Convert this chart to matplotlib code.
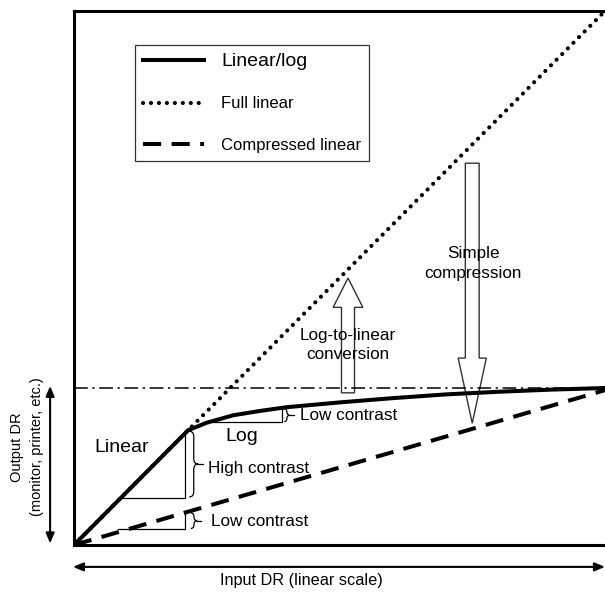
import numpy as np
import matplotlib
matplotlib.use("Agg")
import matplotlib.pyplot as plt
from matplotlib.path import Path
from matplotlib.patches import PathPatch
from matplotlib.lines import Line2D

plt.rcParams['font.family'] = ['Liberation Sans', 'DejaVu Sans']

# courbes (entrée normalisée 0..1, sortie normalisée 0..1)
full_x = [0.0, 1.0]
full_y = [0.0, 1.0]

linlog_x = [0.0, 0.215, 0.25, 0.30, 0.35, 0.40, 0.50, 0.60, 0.70, 0.80, 0.90, 1.00]
linlog_y = [0.0, 0.215, 0.229, 0.243, 0.251, 0.258, 0.267, 0.275, 0.282, 0.287, 0.291, 0.294]

comp_x = [0.0, 1.0]
comp_y = [0.0, 0.29]

out_max = 0.294  # niveau du dynamic range de sortie

# triangles de pente : (x0, y0, x1, y1)
tri_high = (0.088, 0.088, 0.209, 0.215)
tri_low_comp = (0.083, 0.030, 0.209, 0.060)
tri_low_log = (0.262, 0.230, 0.392, 0.255)

DOTS = (0, (0.01, 1.9))
DASH = (0, (4.5, 2.6))

fig = plt.figure(figsize=(6.05, 5.97), dpi=100)
ax = fig.add_axes([74 / 605, 52 / 597, 531 / 605, 534 / 597])
ax.set_xlim(0, 1)
ax.set_ylim(0, 1)
ax.set_xticks([])
ax.set_yticks([])
for s in ['left', 'bottom', 'top']:
    ax.spines[s].set_linewidth(2.2)
ax.spines['right'].set_visible(False)

ax.axhline(out_max, color='black', lw=1.1, linestyle=(0, (9, 3, 1.5, 3)), zorder=2)

ax.plot(full_x, full_y, color='black', lw=3.0, linestyle=DOTS,
        dash_capstyle='round', zorder=3)
ax.plot(comp_x, comp_y, color='black', lw=2.9, linestyle=DASH, zorder=3)
ax.plot(linlog_x, linlog_y, color='black', lw=2.9, solid_joinstyle='round', zorder=4)


def triangle(t):
    x0, y0, x1, y1 = t
    ax.plot([x0, x1, x1], [y0, y0, y1], color='black', lw=0.9, zorder=2)


def brace(x, y0, y1, w):
    ym = (y0 + y1) / 2
    d = min(w * 0.6, (y1 - y0) / 4)
    verts = [(x, y1), (x + w / 2, y1), (x + w / 2, y1 - d),
             (x + w / 2, ym + d),
             (x + w / 2, ym), (x + w, ym),
             (x + w / 2, ym), (x + w / 2, ym - d),
             (x + w / 2, y0 + d),
             (x + w / 2, y0), (x, y0)]
    codes = [Path.MOVETO, Path.CURVE3, Path.CURVE3, Path.LINETO,
             Path.CURVE3, Path.CURVE3, Path.CURVE3, Path.CURVE3,
             Path.LINETO, Path.CURVE3, Path.CURVE3]
    ax.add_patch(PathPatch(Path(verts, codes), fc='none', ec='black', lw=0.9, zorder=2))
    ax.plot([x + w, x + w + 0.008], [ym, ym], color='black', lw=0.9, zorder=2)


triangle(tri_high)
triangle(tri_low_comp)
triangle(tri_low_log)
brace(0.217, 0.090, 0.213, 0.017)
brace(0.220, 0.031, 0.060, 0.012)
brace(0.396, 0.231, 0.255, 0.010)

ax.text(0.252, 0.144, 'High contrast', fontsize=12.3, va='center', ha='left')
ax.text(0.258, 0.044, 'Low contrast', fontsize=12.3, va='center', ha='left')
ax.text(0.425, 0.243, 'Low contrast', fontsize=12.3, va='center', ha='left')
ax.text(0.090, 0.182, 'Linear', fontsize=14, va='center', ha='center')
ax.text(0.315, 0.203, 'Log', fontsize=14, va='center', ha='center')

# flèches creuses
ax.arrow(0.516, 0.285, 0, 0.215, width=0.0245, head_width=0.056, head_length=0.055,
         length_includes_head=True, fc='white', ec='#333333', lw=1.0, zorder=1)
ax.arrow(0.75, 0.715, 0, -0.487, width=0.026, head_width=0.053, head_length=0.122,
         length_includes_head=True, fc='white', ec='#333333', lw=1.0, zorder=1)
ax.text(0.516, 0.375, 'Log-to-linear\nconversion', fontsize=12.3, ha='center',
        va='center', linespacing=1.35, zorder=5)
ax.text(0.752, 0.527, 'Simple\ncompression', fontsize=12.3, ha='center',
        va='center', linespacing=1.35, zorder=5)

# légende
leg = ax.legend(handles=[Line2D([], [], color='black', lw=2.9),
                         Line2D([], [], color='black', lw=3.0, linestyle=DOTS,
                                dash_capstyle='round'),
                         Line2D([], [], color='black', lw=2.9, linestyle=DASH)],
                labels=['Linear/log', 'Full linear', 'Compressed linear'],
                loc='upper left', bbox_to_anchor=(0.115, 0.936), borderaxespad=0,
                fontsize=12, frameon=True, fancybox=False, handlelength=3.7,
                handletextpad=1.0, labelspacing=1.6, borderpad=0.45)
leg.get_frame().set_edgecolor('black')
leg.get_frame().set_linewidth(0.9)
leg.get_texts()[0].set_fontsize(14)

# axes DR
ax.annotate('', xy=(-0.045, 0.298), xytext=(-0.045, 0.003),
            arrowprops=dict(arrowstyle='<|-|>,head_length=0.6,head_width=0.25',
                            color='black', lw=1.5, shrinkA=0, shrinkB=0),
            annotation_clip=False)
ax.annotate('', xy=(1.0, -0.041), xytext=(-0.002, -0.041),
            arrowprops=dict(arrowstyle='<|-|>,head_length=0.6,head_width=0.25',
                            color='black', lw=1.5, shrinkA=0, shrinkB=0),
            annotation_clip=False)
fig.text(17 / 605, (597 - 447) / 597, 'Output DR', rotation=90, fontsize=10.5,
         ha='center', va='center')
fig.text(37 / 605, (597 - 447) / 597, '(monitor, printer, etc.)', rotation=90,
         fontsize=10.5, ha='center', va='center')
fig.text(301 / 605, (597 - 580) / 597, 'Input DR (linear scale)', fontsize=11.7,
         ha='center', va='center')

fig.savefig('out.png', dpi=100)
